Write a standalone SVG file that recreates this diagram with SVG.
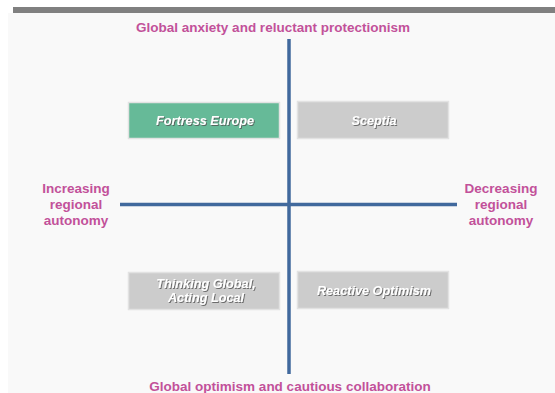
<svg xmlns="http://www.w3.org/2000/svg" width="555" height="393" viewBox="0 0 555 393">
<defs>
<filter id="sh" x="-10%" y="-30%" width="120%" height="160%">
<feDropShadow dx="1" dy="1" stdDeviation="0.4" flood-color="#555" flood-opacity="0.8"/>
</filter>
</defs>
<style>
.axis{font-family:"Liberation Sans",Arial,sans-serif;font-weight:bold;font-size:13.5px;fill:#c2519a;text-anchor:middle}
.box{stroke:#e2e2e2;stroke-width:1.5}
.lbl{font-family:"Liberation Sans",Arial,sans-serif;font-weight:bold;font-style:italic;font-size:12.7px;fill:#ffffff;text-anchor:middle;filter:url(#sh)}
.ln{stroke:#41699d;stroke-width:3.5;fill:none}
</style>
<rect x="0" y="0" width="555" height="393" fill="#ffffff"/>
<rect x="8" y="13" width="547" height="380" fill="#f9f9f9"/>
<rect x="13" y="7" width="542" height="6" fill="#808080"/>
<g id="connectors">
<line class="ln" x1="289" y1="39" x2="289" y2="374"/>
<line class="ln" x1="120" y1="204.5" x2="457" y2="204.5"/>
</g>
<g id="title-top"><text class="axis" x="273" y="31.5">Global anxiety and reluctant protectionism</text></g>
<g id="title-bottom"><text class="axis" x="290" y="391">Global optimism and cautious collaboration</text></g>
<g id="left-label"><text class="axis" x="76" y="193">Increasing</text><text class="axis" x="76" y="208.5">regional</text><text class="axis" x="76" y="224.5">autonomy</text></g>
<g id="right-label"><text class="axis" x="501" y="193">Decreasing</text><text class="axis" x="501" y="208.5">regional</text><text class="axis" x="501" y="224.5">autonomy</text></g>
<g id="fortress-europe"><rect class="box" x="128.5" y="102.5" width="151" height="36" fill="#66ba98"/><text class="lbl" x="205" y="124.5">Fortress Europe</text></g>
<g id="sceptia"><rect class="box" x="297.5" y="101.5" width="151" height="37" fill="#cccccc"/><text class="lbl" x="374" y="124.5">Sceptia</text></g>
<g id="thinking-global"><rect class="box" x="128.5" y="272.5" width="151" height="37" fill="#cccccc"/><text class="lbl" x="206" y="288">Thinking Global,</text><text class="lbl" x="206" y="302">Acting Local</text></g>
<g id="reactive-optimism"><rect class="box" x="297.5" y="271.5" width="151" height="37" fill="#cccccc"/><text class="lbl" x="374" y="294.5">Reactive Optimism</text></g>
</svg>
